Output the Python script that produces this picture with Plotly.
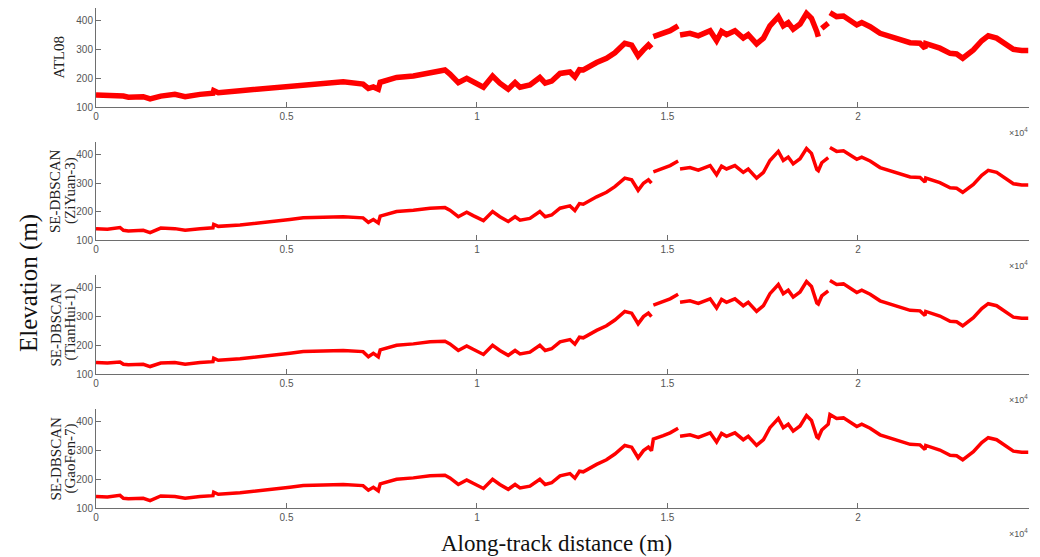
import plotly.graph_objects as go

# Along-track distance (m)
distance = [0, 300, 630, 720, 850, 1240, 1420, 1590, 1700, 2070, 2340, 2730, 3070, 3090,
            3210, 3780, 4480, 5090, 5440, 5970, 6490, 7010, 7150, 7280, 7410, 7460, 7890,
            8330, 8770, 9160, 9290, 9510, 9730, 9900, 10170, 10410, 10600, 10820, 11000,
            11130, 11390, 11650, 11790, 11960, 12180, 12440, 12570, 12690, 12790, 13140,
            13400, 13620, 13880, 14060, 14230, 14370, 14500, 14580, 14630, 14890, 15070,
            15280, 15330, 15590, 15810, 16120, 16290, 16420, 16550, 16770, 16990, 17120,
            17340, 17520, 17690, 17910, 18040, 18170, 18300, 18480, 18650, 18780, 18920,
            18960, 19050, 19220, 19265, 19440, 19620, 19790, 19970, 20100, 20320, 20580,
            20930, 21370, 21630, 21760, 21780, 22150, 22420, 22590, 22750, 23030, 23250,
            23420, 23640, 23900, 24080, 24300, 24470]

# Elevation (m)
atl08 = [142, 140, 141, 138, 134, 136, 128, 136, 138, 144, 136, 144, 148, 157,
         150, 157, 165, 173, 180, 183, 188, 180, 165, 170, 162, 186, 203,
         208, 220, 229, 215, 185, 200, 188, 169, 208, 183, 162, 185,
         169, 177, 203, 183, 190, 217, 222, 205, 230, 229, 255,
         270, 289, 322, 316, 278, 299, 316, 305, 345, 357, 366,
         383, 351, 357, 348, 366, 331, 363, 352, 366, 340, 352,
         320, 340, 383, 415, 383, 394, 371, 389, 426, 409, 363,
         345, 374, 392, 429, 415, 417, 401, 386, 394, 380, 357,
         343, 324, 322, 305, 321, 305, 287, 285, 270, 299, 331,
         348, 340, 316, 301, 297, 297]

ziyuan3 = [140, 138, 144, 134, 132, 134, 126, 134, 142, 140, 134, 140, 143, 155,
           148, 153, 162, 172, 178, 180, 182, 178, 162, 172, 160, 184, 200,
           205, 212, 214, 205, 182, 198, 186, 168, 200, 182, 165, 182,
           170, 176, 200, 182, 188, 212, 220, 204, 228, 226, 252,
           268, 288, 318, 312, 275, 300, 312, 300, 340, 352, 362,
           378, 350, 355, 346, 362, 330, 360, 350, 362, 338, 350,
           318, 338, 380, 412, 380, 392, 368, 386, 422, 405, 348,
           344, 372, 390, 426, 412, 414, 398, 384, 392, 378, 355,
           340, 322, 320, 304, 318, 302, 284, 282, 268, 296, 328,
           345, 338, 314, 298, 294, 294]

tianhui1 = [140, 138, 142, 134, 132, 134, 126, 134, 138, 140, 134, 140, 143, 155,
            148, 153, 162, 172, 178, 180, 182, 178, 160, 172, 160, 184, 200,
            205, 212, 214, 205, 182, 198, 186, 168, 200, 182, 165, 182,
            170, 176, 200, 182, 188, 212, 220, 204, 228, 226, 252,
            268, 288, 318, 312, 275, 300, 312, 300, 340, 352, 362,
            378, 350, 355, 346, 362, 330, 360, 350, 362, 338, 350,
            318, 338, 380, 412, 380, 392, 368, 386, 422, 405, 348,
            344, 372, 390, 426, 412, 414, 398, 384, 392, 378, 355,
            340, 322, 320, 304, 318, 302, 284, 282, 268, 296, 328,
            345, 338, 314, 298, 294, 294]

gaofen7 = [140, 138, 144, 134, 132, 134, 126, 134, 142, 140, 134, 140, 143, 155,
           148, 153, 162, 172, 178, 180, 182, 178, 162, 172, 160, 184, 200,
           205, 212, 214, 205, 182, 198, 186, 168, 200, 182, 165, 182,
           170, 176, 200, 182, 188, 212, 220, 204, 228, 226, 252,
           268, 288, 318, 312, 275, 300, 312, 300, 340, 352, 362,
           378, 350, 355, 346, 362, 330, 360, 350, 362, 338, 350,
           318, 338, 380, 412, 380, 392, 368, 386, 422, 405, 348,
           344, 372, 392, 426, 412, 414, 398, 384, 392, 378, 355,
           340, 322, 320, 304, 318, 302, 284, 282, 268, 296, 328,
           345, 338, 314, 298, 294, 294]

# Distances after which each profile has a data gap
gaps_atl08 = [14580, 15280, 18960, 19220]
gaps_ziyuan3 = [14580, 15280, 19220]
gaps_tianhui1 = [14580, 15280, 19220]
gaps_gaofen7 = [15280]

panel_line1 = ["ATL08", "SE-DBSCAN", "SE-DBSCAN", "SE-DBSCAN"]
panel_line2 = ["", "(ZiYuan-3)", "(TianHui-1)", "(GaoFen-7)"]
series = [atl08, ziyuan3, tianhui1, gaofen7]
gaps = [gaps_atl08, gaps_ziyuan3, gaps_tianhui1, gaps_gaofen7]
widths = [5.5, 3.5, 3.5, 3.5]

x_tickvals = [0, 5000, 10000, 15000, 20000]
x_ticktext = ["0", "0.5", "1", "1.5", "2"]
y_tickvals = [100, 200, 300, 400]

W, H = 1040, 557
ML, MR = 96, 11
PW = W - ML - MR
# panel pixel extents (top, bottom)
panel_px = [(8, 107), (142, 240), (275, 374), (409, 508)]


def px(x):
    return (x - ML) / PW


def py(y):
    return (H - y) / H


fig = go.Figure()
for i, (vals, gp, w) in enumerate(zip(series, gaps, widths)):
    xs, ys = [], []
    for d, v in zip(distance, vals):
        xs.append(d)
        ys.append(v)
        if d in gp:
            xs.append(None)
            ys.append(None)
    ax = "" if i == 0 else str(i + 1)
    fig.add_trace(go.Scatter(x=xs, y=ys, mode="lines", line=dict(color="#ff0000", width=w),
                             connectgaps=False, showlegend=False,
                             xaxis="x" + ax, yaxis="y" + ax))

axis_common = dict(showline=True, linecolor="#6e6e6e", linewidth=1, ticks="inside",
                   tickcolor="#6e6e6e", ticklen=5, showgrid=False, zeroline=False,
                   automargin=False,
                   tickfont=dict(family="Liberation Sans, Arial", size=10, color="#555555"))

layout = dict(width=W, height=H, margin=dict(l=ML, r=MR, t=0, b=0, autoexpand=False),
              plot_bgcolor="white", paper_bgcolor="white", showlegend=False)

for i, (top, bot) in enumerate(panel_px):
    ax = "" if i == 0 else str(i + 1)
    dom = [py(bot), py(top)]
    layout["xaxis" + ax] = dict(axis_common, domain=[0, 1], range=[0, 24490],
                                tickvals=x_tickvals, ticktext=x_ticktext,
                                anchor="y" + ax)
    layout["yaxis" + ax] = dict(axis_common, domain=dom, range=[100, 445],
                                tickvals=y_tickvals, anchor="x" + ax)

fig.update_layout(**layout)

serif = "Liberation Serif, Times New Roman"
ann = []
for i, (top, bot) in enumerate(panel_px):
    ann.append(dict(x=px(1018), y=py(bot + 25), xref="paper", yref="paper",
                    xanchor="center", yanchor="middle",
                    text="×10<sup>4</sup>", showarrow=False,
                    font=dict(family="Liberation Sans, Arial", size=9, color="#555555")))
    if panel_line2[i]:
        ann.append(dict(x=px(55), y=py((top + bot) / 2), xref="paper", yref="paper",
                        xanchor="center", yanchor="middle", text=panel_line1[i],
                        showarrow=False, textangle=-90,
                        font=dict(family=serif, size=15, color="#222222")))
        ann.append(dict(x=px(70), y=py((top + bot) / 2), xref="paper", yref="paper",
                        xanchor="center", yanchor="middle", text=panel_line2[i],
                        showarrow=False, textangle=-90,
                        font=dict(family=serif, size=15, color="#222222")))
    else:
        ann.append(dict(x=px(58), y=py((top + bot) / 2), xref="paper", yref="paper",
                        xanchor="center", yanchor="middle", text=panel_line1[i],
                        showarrow=False, textangle=-90,
                        font=dict(family=serif, size=15, color="#222222")))
ann.append(dict(x=px(29), y=py(283), xref="paper", yref="paper", text="Elevation (m)",
                xanchor="center", yanchor="middle",
                showarrow=False, textangle=-90,
                font=dict(family=serif, size=25, color="#111111")))
ann.append(dict(x=px(556), y=py(543), xref="paper", yref="paper",
                xanchor="center", yanchor="middle",
                text="Along-track distance (m)", showarrow=False,
                font=dict(family=serif, size=23, color="#111111")))
fig.update_layout(annotations=ann)

fig.write_html("out.html", config={"displayModeBar": False},
               post_script="document.body.style.margin='0';")
